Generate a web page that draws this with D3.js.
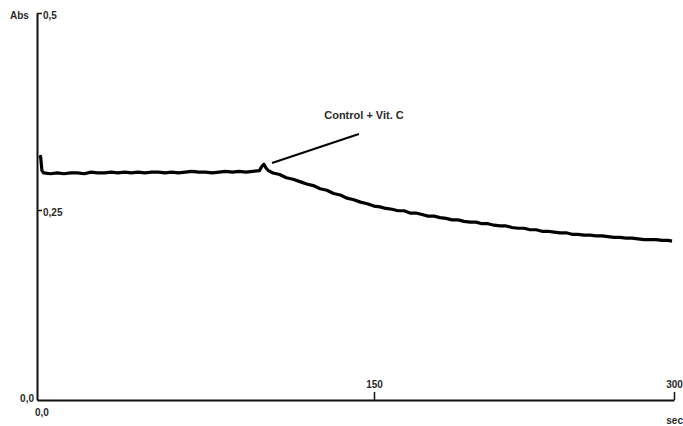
<!DOCTYPE html>
<html>
<head>
<meta charset="utf-8">
<script src="https://cdn.jsdelivr.net/npm/d3@7"></script>
<style>
  body { margin: 0; background: #fff; }
  text { font-family: "Liberation Sans", Arial, sans-serif; font-weight: bold; fill: #2a2a2a; }
</style>
</head>
<body>
<div class="chart"></div>
<script>
// time (s) and absorbance
var times = [1.2, 1.6, 2.2, 3, 6, 9, 12, 15, 18, 21, 24, 27, 30, 33, 36, 39, 42, 45, 48, 51, 54, 57, 60,
  63, 66, 69, 72, 75, 78, 81, 84, 87, 90, 93, 96, 99, 100, 101, 102, 103,
  105, 108, 111, 114, 117, 120, 123, 126, 129, 132, 135, 138, 141, 144, 147, 150,
  153, 156, 159, 162, 165, 168, 171, 174, 177, 180, 183, 186, 189, 192, 195, 198,
  201, 204, 207, 210, 213, 216, 219, 222, 225, 228, 231, 234, 237, 240, 243, 246,
  249, 252, 255, 258, 261, 264, 267, 270, 273, 276, 279, 282, 285, 288, 291, 294, 297, 299];
var absorb = [0.316, 0.318, 0.300, 0.297, 0.296, 0.297, 0.296, 0.297, 0.297, 0.296, 0.298, 0.297, 0.297,
  0.298, 0.297, 0.298, 0.297, 0.298, 0.297, 0.298, 0.298, 0.297, 0.298, 0.297, 0.298, 0.299, 0.298,
  0.298, 0.297, 0.298, 0.299, 0.298, 0.299, 0.298, 0.299, 0.300, 0.305, 0.308, 0.303, 0.300,
  0.297, 0.295, 0.291, 0.289, 0.286, 0.283, 0.281, 0.277, 0.275, 0.271, 0.269, 0.265, 0.263, 0.260,
  0.258, 0.255, 0.254, 0.252, 0.251, 0.249, 0.249, 0.246, 0.246, 0.244, 0.242, 0.242, 0.240, 0.239,
  0.237, 0.237, 0.235, 0.234, 0.234, 0.232, 0.232, 0.230, 0.229, 0.229, 0.227, 0.226, 0.226, 0.224,
  0.224, 0.222, 0.222, 0.221, 0.220, 0.220, 0.218, 0.218, 0.217, 0.217, 0.216, 0.216, 0.215, 0.214,
  0.214, 0.213, 0.213, 0.212, 0.211, 0.211, 0.211, 0.210, 0.210, 0.209];
var xTicks = [150, 300];
var yTicks = [0.25, 0.5];

var w = 683, h = 426;
var svg = d3.select('.chart').append('svg')
  .attr('width', w)
  .attr('height', h);

// the scanned plot is not quite linear, so use piecewise scales through the tick marks
var x = d3.scaleLinear().domain([0, 150, 300]).range([37, 374, 674]);
var y = d3.scaleLinear().domain([0, 0.25, 0.5]).range([400, 210, 13]);

var comma = d3.formatLocale({decimal: ',', thousands: '.', grouping: [3], currency: ['', '']});
var fmtY = function(d){ return d === 0.5 ? '0,5' : comma.format('.2f')(d); };

// y axis, ticks pointing right
var yAxis = svg.append('g')
  .attr('transform', 'translate(37,0)')
  .call(d3.axisRight(y).tickValues(yTicks).tickSize(5).tickSizeOuter(0).tickPadding(1).tickFormat(fmtY));
yAxis.select('.domain').attr('stroke', '#111').attr('stroke-width', 2);
yAxis.selectAll('.tick line').attr('stroke', '#111').attr('stroke-width', 1.5);
yAxis.selectAll('.tick text').attr('font-size', 10).attr('dy', '0.5em');

// x axis, ticks pointing up
var xAxis = svg.append('g')
  .attr('transform', 'translate(0,400)')
  .call(d3.axisTop(x).tickValues(xTicks).tickSize(8).tickSizeOuter(0).tickPadding(4));
xAxis.select('.domain').attr('stroke', '#111').attr('stroke-width', 2);
xAxis.selectAll('.tick line').attr('stroke', '#111').attr('stroke-width', 1.5);
xAxis.selectAll('.tick text').attr('font-size', 10);

// loose labels
svg.append('text').attr('x', 10).attr('y', 19).attr('font-size', 10).text('Abs');
svg.append('text').attr('x', 34).attr('y', 402).attr('font-size', 10).attr('text-anchor', 'end').text('0,0');
svg.append('text').attr('x', 35).attr('y', 416).attr('font-size', 10).text('0,0');
svg.append('text').attr('x', 683).attr('y', 424).attr('font-size', 10).attr('text-anchor', 'end').text('sec');

// trace
var line = d3.line()
  .x(function(d){ return x(d[0]); })
  .y(function(d){ return y(d[1]); });
svg.append('path')
  .datum(d3.zip(times, absorb))
  .attr('d', line)
  .attr('fill', 'none')
  .attr('stroke', '#000')
  .attr('stroke-width', 3.2)
  .attr('stroke-linejoin', 'round');

// annotation pointer and label
svg.append('line')
  .attr('x1', x(104.6)).attr('y1', y(0.3096))
  .attr('x2', x(143.3)).attr('y2', y(0.3465))
  .attr('stroke', '#000').attr('stroke-width', 2);
svg.append('text')
  .attr('x', 364).attr('y', 119)
  .attr('text-anchor', 'middle')
  .attr('font-size', 11)
  .text('Control + Vit. C');
</script>
</body>
</html>
